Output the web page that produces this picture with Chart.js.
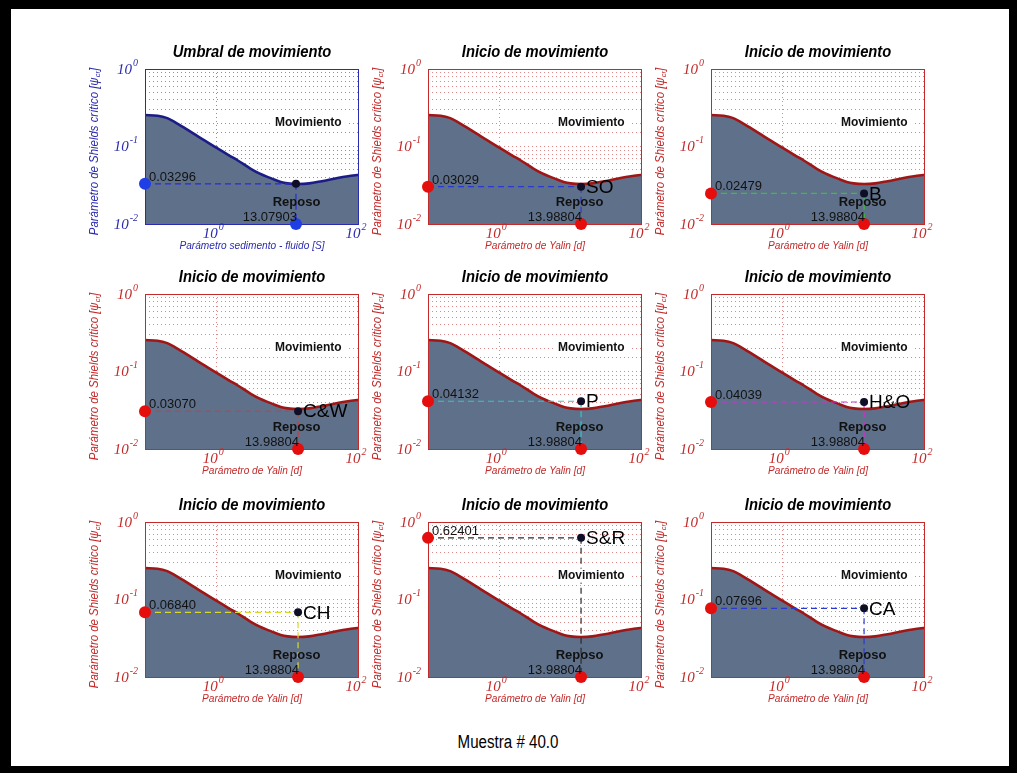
<!DOCTYPE html>
<html lang="es">
<head>
<meta charset="UTF-8">
<title>Muestra # 40.0</title>
<script src="https://cdn.jsdelivr.net/npm/chart.js"></script>
<style>
  html, body { margin: 0; padding: 0; background: #000; }
  #frame { position: absolute; left: 0; top: 0; width: 1017px; height: 773px; background: #000; overflow: hidden; }
  #sheet { position: absolute; left: 11px; top: 9px; width: 998px; height: 757px; background: #fff; }
  #frame canvas { position: absolute; }
  #muestra { position: absolute; left: 0; width: 1017px; top: 732px; text-align: center; }
  #muestra span { display: inline-block; transform: scaleX(0.84);
                  font: 18px "Liberation Sans", Arial, sans-serif; color: #000; }
</style>
</head>
<body>
<div id="frame">
  <div id="sheet"></div>
  <div id="muestra"><span></span></div>
</div>

<script>
// datos
const curveX = [0.1, 0.15, 0.2, 0.3, 0.5, 0.7, 1, 1.5, 2, 3, 4, 6, 8, 10, 14, 20, 30, 50, 70, 100];
const curveY = [0.255, 0.249, 0.234, 0.192, 0.143, 0.118, 0.097, 0.077, 0.066, 0.052, 0.045, 0.0385, 0.0348, 0.0334, 0.0328, 0.0334, 0.0357, 0.0392, 0.0413, 0.0432];

const plotTitles = ['Umbral de movimiento', 'Inicio de movimiento', 'Inicio de movimiento',
                    'Inicio de movimiento', 'Inicio de movimiento', 'Inicio de movimiento',
                    'Inicio de movimiento', 'Inicio de movimiento', 'Inicio de movimiento'];
const pointLabels = ['', 'SO', 'B', 'C&W', 'P', 'H&O', 'CH', 'S&R', 'CA'];
const pointX = [13.07903, 13.98804, 13.98804, 13.98804, 13.98804, 13.98804, 13.98804, 13.98804, 13.98804];
const pointY = [0.03296, 0.03029, 0.02479, 0.03070, 0.04132, 0.04039, 0.06840, 0.62401, 0.07696];
const xAxisTitles = ['Parámetro sedimento - fluido [S]', 'Parámetro de Yalin [d]', 'Parámetro de Yalin [d]',
                     'Parámetro de Yalin [d]', 'Parámetro de Yalin [d]', 'Parámetro de Yalin [d]',
                     'Parámetro de Yalin [d]', 'Parámetro de Yalin [d]', 'Parámetro de Yalin [d]'];
const yAxisTitle = 'Parámetro de Shields crítico [ψ';
const yAxisSub = 'cr';
const xTicks = [1, 100];
const yTicks = [0.01, 0.1, 1];
const regionNames = ['Movimiento', 'Reposo'];
const sampleName = 'Muestra # 40.0';

// estilos
const dashColors = ['#2a2ad8', '#2a3ad0', '#2ec82e', '#d23a3a', '#2ec8c8', '#d22ed2', '#d8d82a', '#2a2a2a', '#2a3ad0'];
const FILL = '#5f718a';
const NAVY = '#1c1c86', DARKRED = '#9e1616';
const AXIS_BLUE = '#2b2bb0', AXIS_RED = '#c42a2a';
const MARK_BLUE = '#1f3ee6', MARK_RED = '#e60d0d';
const SANS = '"Liberation Sans", Arial, sans-serif';
const SERIF = '"Liberation Serif", "Times New Roman", serif';

const COLS = [145, 428, 711];
const ROWS = [69, 294, 522];
const PW = 214, PH = 155;
const PAD = { l: 80, t: 34, r: 20, b: 40 };

document.querySelector('#muestra span').textContent = sampleName;
const frame = document.getElementById('frame');

// texto estrechado (la figura original usa una fuente condensada)
function narrowText(ctx, text, x, y, sx) {
  ctx.save();
  ctx.translate(x, y);
  ctx.scale(sx, 1);
  ctx.fillText(text, 0, 0);
  ctx.restore();
}

function drawPow(ctx, exp, x, y, align, color) {
  ctx.save();
  ctx.fillStyle = color;
  ctx.textBaseline = 'middle';
  ctx.font = 'italic 15px ' + SERIF;
  const wb = ctx.measureText('10').width;
  ctx.font = 'italic 10px ' + SERIF;
  const we = ctx.measureText(exp).width;
  let x0 = x;
  if (align === 'right') x0 = x - wb - we - 1;
  if (align === 'center') x0 = x - (wb + we + 1) / 2;
  ctx.font = 'italic 15px ' + SERIF;
  ctx.textAlign = 'left';
  ctx.fillText('10', x0, y);
  ctx.font = 'italic 10px ' + SERIF;
  ctx.fillText(exp, x0 + wb + 1, y - 7);
  ctx.restore();
}

function makeChart(i) {
  const col = i % 3, row = Math.floor(i / 3);
  const left = COLS[col], top = ROWS[row];
  const blue = i === 0;
  const axisColor = blue ? AXIS_BLUE : AXIS_RED;
  const lineColor = blue ? NAVY : DARKRED;
  const markColor = blue ? MARK_BLUE : MARK_RED;
  const gridColor = blue ? 'rgba(50,50,90,0.55)' : 'rgba(190,40,40,0.55)';

  const canvas = document.createElement('canvas');
  canvas.width = PAD.l + PW + PAD.r;
  canvas.height = PAD.t + PH + PAD.b;
  canvas.style.left = (left - PAD.l) + 'px';
  canvas.style.top = (top - PAD.t) + 'px';
  frame.appendChild(canvas);

  const px = pointX[i], py = pointY[i];

  const decor = {
    id: 'decor' + i,
    afterDatasetDraw(chart, args) {
      if (args.index !== 0) return;
      const a = chart.chartArea, ctx = chart.ctx;
      ctx.save();
      ctx.strokeStyle = axisColor;
      ctx.lineWidth = 1;
      ctx.strokeRect(Math.round(a.left) + 0.5, Math.round(a.top) + 0.5,
                     Math.round(a.right - a.left) - 1, Math.round(a.bottom - a.top));
      ctx.restore();
    },
    afterDatasetsDraw(chart) {
      const ctx = chart.ctx, xs = chart.scales.x, ys = chart.scales.y, a = chart.chartArea;
      ctx.save();
      // Movimiento con fondo blanco
      ctx.font = 'bold 12px ' + SANS;
      ctx.textAlign = 'center';
      ctx.textBaseline = 'middle';
      const mx = xs.getPixelForValue(19.5), my = ys.getPixelForValue(0.203);
      const mw = ctx.measureText(regionNames[0]).width;
      ctx.fillStyle = '#fff';
      ctx.fillRect(mx - mw / 2 - 5, my - 7, mw + 10, 14);
      ctx.fillStyle = '#111';
      ctx.fillText(regionNames[0], mx, my);
      // Reposo
      ctx.font = 'bold 13px ' + SANS;
      ctx.fillText(regionNames[1], xs.getPixelForValue(13.3), ys.getPixelForValue(0.0192));
      // valores
      ctx.font = '13px ' + SANS;
      ctx.textBaseline = 'alphabetic';
      ctx.textAlign = 'left';
      ctx.fillText(py.toFixed(5), a.left + 4, ys.getPixelForValue(py) - 3);
      ctx.textAlign = 'right';
      ctx.fillText(px.toFixed(5), xs.getPixelForValue(px) + 1, a.bottom - 3);
      if (pointLabels[i]) {
        ctx.font = '19px ' + SANS;
        ctx.textAlign = 'left';
        ctx.textBaseline = 'middle';
        ctx.fillStyle = '#000';
        ctx.fillText(pointLabels[i], xs.getPixelForValue(px) + 5, ys.getPixelForValue(py) + 1);
      }
      ctx.restore();
    },
    afterDraw(chart) {
      const ctx = chart.ctx, xs = chart.scales.x, ys = chart.scales.y, a = chart.chartArea;
      yTicks.forEach(v => drawPow(ctx, String(Math.round(Math.log10(v))), a.left - 7, ys.getPixelForValue(v) + 1, 'right', axisColor));
      xTicks.forEach(v => drawPow(ctx, String(Math.round(Math.log10(v))), xs.getPixelForValue(v) - 3, a.bottom + 10, 'center', axisColor));
      ctx.save();
      // título
      ctx.fillStyle = '#000';
      ctx.textAlign = 'center';
      ctx.textBaseline = 'middle';
      ctx.font = 'italic bold 16px ' + SANS;
      narrowText(ctx, plotTitles[i], (a.left + a.right) / 2, a.top - 16, 0.92);
      // eje x
      ctx.fillStyle = axisColor;
      ctx.font = 'italic 11px ' + SANS;
      narrowText(ctx, xAxisTitles[i], (a.left + a.right) / 2, a.bottom + 22, 0.92);
      // eje y
      ctx.translate(a.left - 50, (a.top + a.bottom) / 2 + 5);
      ctx.rotate(-Math.PI / 2);
      ctx.scale(0.95, 1);
      ctx.font = 'italic 12px ' + SANS;
      const w1 = ctx.measureText(yAxisTitle).width;
      ctx.font = 'italic 8px ' + SANS;
      const ws = ctx.measureText(yAxisSub).width;
      ctx.font = 'italic 12px ' + SANS;
      const w3 = ctx.measureText(']').width;
      const x0 = -(w1 + ws + w3) / 2;
      ctx.textAlign = 'left';
      ctx.fillText(yAxisTitle, x0, 0);
      ctx.fillText(']', x0 + w1 + ws, 0);
      ctx.font = 'italic 8px ' + SANS;
      ctx.fillText(yAxisSub, x0 + w1, 3);
      ctx.restore();
    }
  };

  new Chart(canvas.getContext('2d'), {
    type: 'line',
    data: {
      datasets: [
        {
          data: curveX.map((x, k) => ({ x: x, y: curveY[k] })),
          borderColor: lineColor, borderWidth: 2.6, backgroundColor: FILL,
          fill: 'start', pointRadius: 0, cubicInterpolationMode: 'monotone', order: 5
        },
        {
          data: [{ x: 0.1, y: py }, { x: px, y: py }],
          borderColor: dashColors[i], borderWidth: 1.2, borderDash: [6, 4],
          pointRadius: 0, fill: false, order: 4
        },
        {
          data: [{ x: px, y: py }, { x: px, y: 0.01 }],
          borderColor: dashColors[i], borderWidth: 1.2, borderDash: [6, 4],
          pointRadius: 0, fill: false, order: 4
        },
        {
          data: [{ x: px, y: py }],
          showLine: false, pointRadius: 4, pointBorderWidth: 0,
          pointBackgroundColor: '#0e0e26', order: 2
        },
        {
          data: [{ x: 0.1, y: py }, { x: px, y: 0.01 }],
          showLine: false, pointRadius: 6, pointBorderWidth: 0,
          pointBackgroundColor: markColor, clip: false, order: 1
        }
      ]
    },
    options: {
      responsive: false,
      animation: false,
      events: [],
      layout: { padding: { left: PAD.l, top: PAD.t, right: PAD.r, bottom: PAD.b } },
      plugins: { legend: { display: false }, tooltip: { enabled: false }, title: { display: false } },
      scales: {
        x: {
          type: 'logarithmic', min: 0.1, max: 100,
          ticks: { display: false },
          border: { display: false, dash: [1, 3] },
          grid: {
            drawTicks: false, lineWidth: 1,
            color: c => (c.tick && Math.abs(c.tick.value - 1) < 1e-9) ? gridColor : 'rgba(0,0,0,0)'
          }
        },
        y: {
          type: 'logarithmic', min: 0.01, max: 1,
          ticks: { display: false },
          border: { display: false, dash: [1, 3] },
          grid: {
            drawTicks: false, lineWidth: 1,
            color: c => (c.tick && c.tick.value > 0.0101 && c.tick.value < 0.99) ? gridColor : 'rgba(0,0,0,0)'
          }
        }
      }
    },
    plugins: [decor]
  });
}

for (let i = 0; i < 9; i++) makeChart(i);
</script>
</body>
</html>
